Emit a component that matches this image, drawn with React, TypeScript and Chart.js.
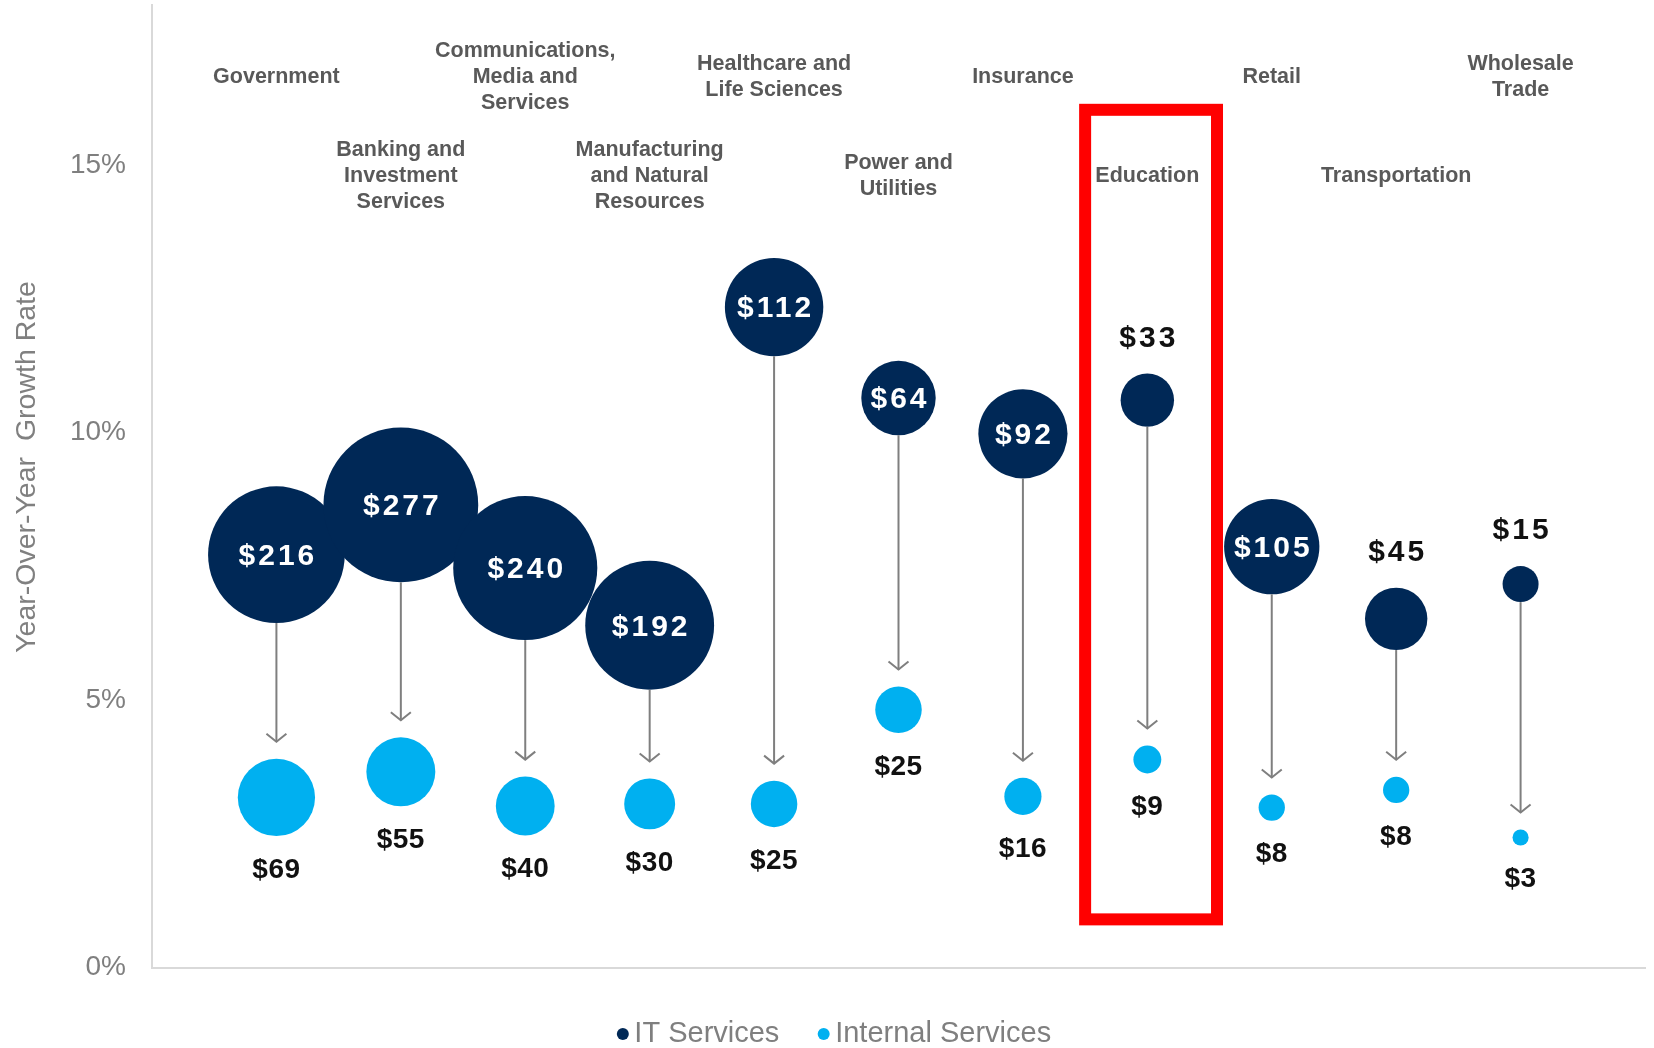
import React, { useEffect, useRef } from 'react';
import { Chart, registerables } from 'chart.js';

Chart.register(...registerables);

// ---------- data ----------
const categories: string[][] = [
  ['Government'],
  ['Banking and', 'Investment', 'Services'],
  ['Communications,', 'Media and', 'Services'],
  ['Manufacturing', 'and Natural', 'Resources'],
  ['Healthcare and', 'Life Sciences'],
  ['Power and', 'Utilities'],
  ['Insurance'],
  ['Education'],
  ['Retail'],
  ['Transportation'],
  ['Wholesale', 'Trade'],
];
const itSpend = [216, 277, 240, 192, 112, 64, 92, 33, 105, 45, 15];
const itGrowth = [7.72, 8.65, 7.47, 6.4, 12.35, 10.65, 9.98, 10.61, 7.87, 6.52, 7.17];
const internalSpend = [69, 55, 40, 30, 25, 25, 16, 9, 8, 8, 3];
const internalGrowth = [3.18, 3.66, 3.02, 3.06, 3.06, 4.82, 3.2, 3.89, 2.99, 3.32, 2.43];
const yTickValues = [0, 5, 10, 15];
const seriesNames = ['IT Services', 'Internal Services'];
const highlightIndex = 7;
const yAxisTitle = 'Year-Over-Year  Growth Rate';

// ---------- style ----------
const NAVY = '#002856';
const LIGHT = '#00B0F0';
const FONT = '"Liberation Sans", Arial, sans-serif';
const R_SCALE = 4.65;
const radius = (v: number) => R_SCALE * Math.sqrt(v);

const overlayPlugin = {
  id: 'overlay',
  afterDatasetsDraw(chart: any) {
    const ctx: CanvasRenderingContext2D = chart.ctx;
    const xs = chart.scales.x;
    const ys = chart.scales.y;
    const area = chart.chartArea;
    ctx.save();

    // arrows
    ctx.strokeStyle = '#7f7f7f';
    ctx.lineWidth = 2;
    for (let i = 0; i < categories.length; i++) {
      const x = xs.getPixelForValue(i);
      const yStart = ys.getPixelForValue(itGrowth[i]) + radius(itSpend[i]);
      const yEnd = ys.getPixelForValue(internalGrowth[i]) - radius(internalSpend[i]) - 17;
      ctx.beginPath();
      ctx.moveTo(x, yStart);
      ctx.lineTo(x, yEnd);
      ctx.stroke();
      ctx.beginPath();
      ctx.moveTo(x - 10, yEnd - 8);
      ctx.lineTo(x, yEnd);
      ctx.lineTo(x + 10, yEnd - 8);
      ctx.stroke();
    }

    // IT value labels
    ctx.textAlign = 'center';
    ctx.textBaseline = 'middle';
    (ctx as any).letterSpacing = '3px';
    ctx.font = `bold 30px ${FONT}`;
    for (let i = 0; i < categories.length; i++) {
      const x = xs.getPixelForValue(i) + 1.5;
      const y = ys.getPixelForValue(itGrowth[i]);
      const r = radius(itSpend[i]);
      const txt = '$' + itSpend[i];
      if (itSpend[i] >= 60) {
        ctx.fillStyle = '#ffffff';
        ctx.fillText(txt, x, y + 2);
      } else {
        ctx.fillStyle = '#111111';
        ctx.fillText(txt, x, y - r - 35);
      }
    }

    // internal value labels
    (ctx as any).letterSpacing = '0.5px';
    ctx.font = `bold 28px ${FONT}`;
    ctx.fillStyle = '#111111';
    for (let i = 0; i < categories.length; i++) {
      const x = xs.getPixelForValue(i);
      const y = ys.getPixelForValue(internalGrowth[i]) + radius(internalSpend[i]) + 34;
      ctx.fillText('$' + internalSpend[i], x, y);
    }
    (ctx as any).letterSpacing = '0px';

    // category labels (staggered rows)
    ctx.font = `bold 21.5px ${FONT}`;
    ctx.fillStyle = '#595959';
    const lineH = 25.8;
    for (let i = 0; i < categories.length; i++) {
      const x = xs.getPixelForValue(i);
      const cy = area.top + (i % 2 === 0 ? 72 : 171);
      const lines = categories[i];
      const y0 = cy - ((lines.length - 1) * lineH) / 2;
      lines.forEach((ln, k) => ctx.fillText(ln, x, y0 + k * lineH));
    }

    // highlight rectangle
    const hx1 = xs.getPixelForValue(highlightIndex - 0.5);
    const hx2 = xs.getPixelForValue(highlightIndex + 0.56);
    const hy1 = ys.getPixelForValue(16.04);
    const hy2 = ys.getPixelForValue(0.9);
    ctx.strokeStyle = '#ff0000';
    ctx.lineWidth = 12;
    ctx.strokeRect(hx1, hy1, hx2 - hx1, hy2 - hy1);

    // y axis title
    ctx.save();
    ctx.translate(27, 467);
    ctx.rotate(-Math.PI / 2);
    ctx.font = `28.5px ${FONT}`;
    ctx.fillStyle = '#808080';
    ctx.fillText(yAxisTitle, 0, 0);
    ctx.restore();

    // legend
    ctx.font = `29px ${FONT}`;
    ctx.textAlign = 'left';
    const colors = [NAVY, LIGHT];
    const dotR = 6;
    const textOff = 11.5;
    const widths = seriesNames.map((s) => ctx.measureText(s).width);
    const itemW = widths.map((w) => dotR + textOff + w);
    const gap = 38.3;
    const total = itemW[0] + gap + itemW[1];
    let sx = 834 - total / 2;
    const ly = 1034;
    seriesNames.forEach((name, k) => {
      ctx.fillStyle = colors[k];
      ctx.beginPath();
      ctx.arc(sx + dotR, ly, dotR, 0, Math.PI * 2);
      ctx.fill();
      ctx.fillStyle = '#7f7f7f';
      ctx.fillText(name, sx + dotR + textOff, ly);
      sx += itemW[k] + gap;
    });

    ctx.restore();
  },
};

export default function App() {
  const ref = useRef<HTMLCanvasElement>(null);
  useEffect(() => {
    const chart = new Chart(ref.current as HTMLCanvasElement, {
      type: 'bubble',
      data: {
        datasets: [
          {
            label: seriesNames[0],
            data: itGrowth.map((y, i) => ({ x: i, y, r: radius(itSpend[i]) })),
            backgroundColor: NAVY,
            borderWidth: 0,
          },
          {
            label: seriesNames[1],
            data: internalGrowth.map((y, i) => ({ x: i, y, r: radius(internalSpend[i]) })),
            backgroundColor: LIGHT,
            borderWidth: 0,
          },
        ],
      },
      options: {
        responsive: false,
        devicePixelRatio: 1,
        animation: false,
        events: [],
        layout: { autoPadding: false, padding: { left: 0, right: 9, top: 5, bottom: 80.5 } },
        plugins: {
          legend: { display: false },
          title: { display: false },
          tooltip: { enabled: false },
        },
        scales: {
          x: {
            type: 'linear',
            min: -1,
            max: 11,
            grid: { display: false, drawTicks: false },
            ticks: { display: false },
            border: { display: true, color: '#d9d9d9', width: 2 },
            afterFit: (s: any) => {
              s.height = 0;
              s.paddingLeft = 0;
              s.paddingRight = 0;
              s.paddingTop = 0;
              s.paddingBottom = 0;
            },
          },
          y: {
            type: 'linear',
            min: 0,
            max: 18,
            afterBuildTicks: (s: any) => {
              s.ticks = yTickValues.map((v) => ({ value: v }));
            },
            ticks: {
              padding: 26,
              color: '#7f7f7f',
              font: { family: FONT, size: 28 },
              callback: (v: any) => v + '%',
            },
            grid: { display: false, drawTicks: false },
            border: { display: true, color: '#d9d9d9', width: 2 },
            afterFit: (s: any) => {
              s.width = 152;
              s.paddingLeft = 0;
              s.paddingRight = 0;
              s.paddingTop = 0;
              s.paddingBottom = 0;
            },
          },
        },
      },
      plugins: [overlayPlugin],
    } as any);
    return () => chart.destroy();
  }, []);
  return (
    <div style={{ position: 'absolute', left: 0, top: 0, width: 1654, height: 1048, background: '#fff' }}>
      <canvas ref={ref} width={1654} height={1048} style={{ display: 'block', width: 1654, height: 1048 }} />
    </div>
  );
}
